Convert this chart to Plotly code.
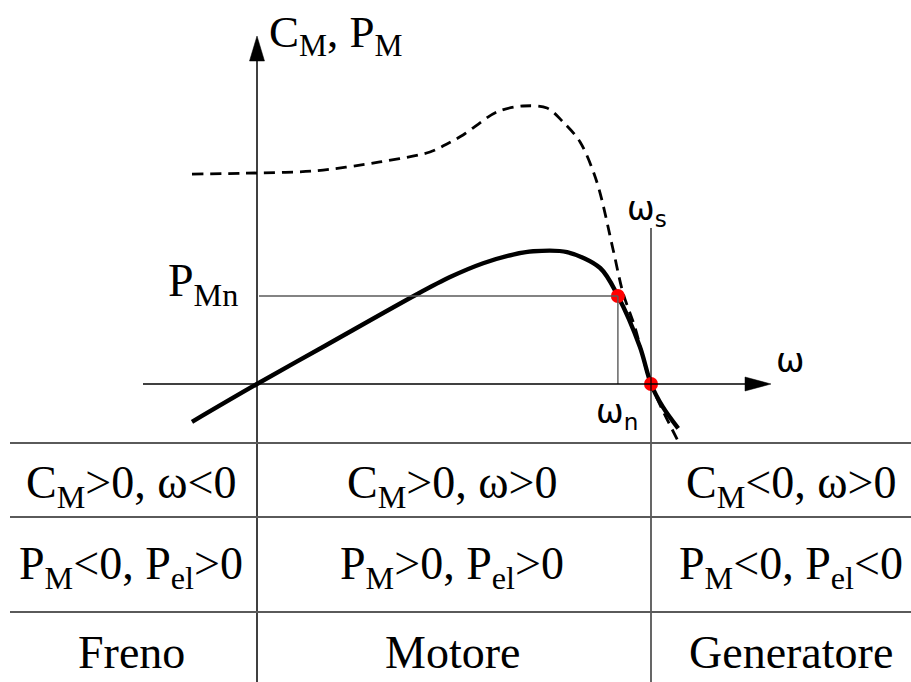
import plotly.graph_objects as go

# Canvas and drawing scale (pixels per unit along ω and along C/P)
W, H = 911, 682
ORIGIN_PX = (257, 384)
SX, SY = 394.0, 88.0


def dx(px):
    return (px - ORIGIN_PX[0]) / SX


def dy(py):
    return (ORIGIN_PX[1] - py) / SY


# Characteristic speeds (normalised: ω_s = 1) and rated power
omega_s = 1.0
omega_n = 0.916
P_Mn = 1.0

# Mechanical power P_M(ω)
power_w = [-0.165, 0.0, 0.173, 0.406, 0.490, 0.574, 0.650, 0.701, 0.787, 0.871, 0.916, 0.972, 1.0, 1.030, 1.069]
power_v = [-0.430, 0.0, 0.435, 1.020, 1.215, 1.372, 1.470, 1.508, 1.498, 1.318, 1.0, 0.420, 0.0, -0.261, -0.505]

# Mechanical torque C_M(ω)
torque_w = [-0.165, 0.0, 0.142, 0.312, 0.439, 0.482, 0.523, 0.609, 0.675, 0.736, 0.777, 0.820, 0.863, 0.904, 0.929, 0.959, 1.0, 1.074]
torque_v = [2.386, 2.398, 2.420, 2.523, 2.636, 2.728, 2.830, 3.091, 3.159, 3.136, 2.977, 2.750, 2.290, 1.523, 1.034, 0.648, 0.0, -0.693]

# Operating-region table
col_centers = [131, 452, 791]
row_centers = [486, 567, 652]
row_lines = [443, 517, 612]
table_rows = [
    ["C<sub>M</sub>&gt;0, ω&lt;0", "C<sub>M</sub>&gt;0, ω&gt;0", "C<sub>M</sub>&lt;0, ω&gt;0"],
    ["P<sub>M</sub>&lt;0, P<sub>el</sub>&gt;0", "P<sub>M</sub>&gt;0, P<sub>el</sub>&gt;0", "P<sub>M</sub>&lt;0, P<sub>el</sub>&lt;0"],
    ["Freno", "Motore", "Generatore"],
]

SERIF = "Liberation Serif, Times New Roman, serif"
SANS = "DejaVu Sans, sans-serif"
GREY = "#5a5a5a"

fig = go.Figure()

# Torque (dashed) and power (solid) characteristics
fig.add_trace(go.Scatter(
    x=torque_w, y=torque_v, mode="lines",
    line=dict(color="black", width=2.8, dash="11px,7px", shape="spline", smoothing=0.9),
    hoverinfo="skip", showlegend=False))
fig.add_trace(go.Scatter(
    x=power_w, y=power_v, mode="lines",
    line=dict(color="black", width=4.4, shape="spline", smoothing=0.9),
    hoverinfo="skip", showlegend=False))

shapes = []
# Rated-point guide lines
shapes.append(dict(type="line", x0=dx(259), y0=P_Mn, x1=omega_n, y1=P_Mn,
                   line=dict(color=GREY, width=1.4)))
shapes.append(dict(type="line", x0=omega_n, y0=P_Mn, x1=omega_n, y1=0,
                   line=dict(color=GREY, width=1.4)))

# Vertical axis (continues through the table) with arrowhead
y_tip = dy(36)
shapes.append(dict(type="line", x0=0, y0=dy(H + 2), x1=0, y1=dy(58),
                   line=dict(color="black", width=1.5)))
shapes.append(dict(type="path",
                   path=f"M {dx(257 - 7.5)} {dy(61)} L {0} {y_tip} L {dx(257 + 7.5)} {dy(61)} Z",
                   fillcolor="black", line=dict(color="black", width=0.5)))

# Horizontal ω axis with arrowhead
x_tip = dx(771)
shapes.append(dict(type="line", x0=dx(143), y0=0, x1=dx(750), y1=0,
                   line=dict(color="black", width=1.5)))
shapes.append(dict(type="path",
                   path=f"M {dx(745)} {dy(384 - 7)} L {x_tip} {0} L {dx(745)} {dy(384 + 7)} Z",
                   fillcolor="black", line=dict(color="black", width=0.5)))

# Synchronous-speed line (also the table's right divider)
shapes.append(dict(type="line", x0=omega_s, y0=dy(228), x1=omega_s, y1=dy(H + 2),
                   line=dict(color="black", width=1.2)))

# Table horizontal rules
for ry in row_lines:
    shapes.append(dict(type="line", x0=dx(10), y0=dy(ry), x1=dx(W + 2), y1=dy(ry),
                       line=dict(color=GREY, width=2)))

fig.update_layout(shapes=shapes)

# Red operating points
fig.add_trace(go.Scatter(
    x=[omega_n, omega_s], y=[P_Mn, 0], mode="markers",
    marker=dict(color="#ff0000", size=14, line=dict(width=0)),
    hoverinfo="skip", showlegend=False))

ann = []
ann.append(dict(x=dx(267), y=dy(35), text="C<sub>M</sub>, P<sub>M</sub>",
                xanchor="left", yanchor="middle", font=dict(family=SERIF, size=45)))
ann.append(dict(x=dx(240), y=P_Mn, text="P<sub>Mn</sub>", yshift=12,
                xanchor="right", yanchor="middle", font=dict(family=SERIF, size=46)))
ann.append(dict(x=omega_s, y=dy(210), text="ω<sub>s</sub>", xshift=-4,
                xanchor="center", yanchor="middle", font=dict(family=SANS, size=33)))
ann.append(dict(x=omega_n, y=dy(413), text="ω<sub>n</sub>", xshift=-1,
                xanchor="center", yanchor="middle", font=dict(family=SANS, size=33)))
ann.append(dict(x=dx(790), y=dy(360), text="ω",
                xanchor="center", yanchor="middle", font=dict(family=SANS, size=34)))

for r, row in enumerate(table_rows):
    for c, txt in enumerate(row):
        ann.append(dict(x=dx(col_centers[c]), y=dy(row_centers[r]), text=txt,
                        xanchor="center", yanchor="middle",
                        font=dict(family=SERIF, size=46)))

for a in ann:
    a.update(xref="x", yref="y", showarrow=False)
    a["font"]["color"] = "black"
fig.update_layout(annotations=ann)

fig.update_layout(
    width=W, height=H,
    margin=dict(l=0, r=0, t=0, b=0),
    paper_bgcolor="white", plot_bgcolor="white",
    xaxis=dict(range=[dx(0), dx(W)], visible=False, fixedrange=True),
    yaxis=dict(range=[dy(H), dy(0)], visible=False, fixedrange=True),
    showlegend=False,
)

fig.write_html("out.html", config={"displayModeBar": False})
